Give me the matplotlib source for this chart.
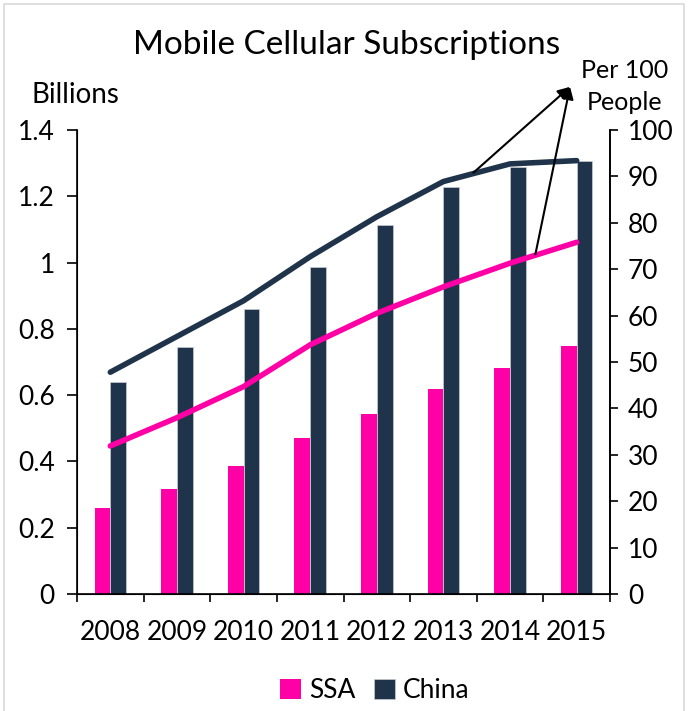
import matplotlib
matplotlib.use("Agg")
import matplotlib.pyplot as plt
from matplotlib.patches import Rectangle
import numpy as np

years = ["2008", "2009", "2010", "2011", "2012", "2013", "2014", "2015"]
ssa_subs = [0.26, 0.316, 0.387, 0.471, 0.544, 0.619, 0.681, 0.747]
china_subs = [0.641, 0.746, 0.859, 0.987, 1.112, 1.229, 1.289, 1.305]
ssa_per100 = [31.9, 38.0, 44.7, 53.7, 60.5, 66.2, 71.3, 75.8]
china_per100 = [47.8, 55.5, 63.2, 72.7, 81.3, 88.9, 92.7, 93.4]
left_ticks = [0, 0.2, 0.4, 0.6, 0.8, 1.0, 1.2, 1.4]
left_labels = ["0", "0.2", "0.4", "0.6", "0.8", "1", "1.2", "1.4"]
right_ticks = [0, 10, 20, 30, 40, 50, 60, 70, 80, 90, 100]

PINK = "#FF00A6"
NAVY = "#1F334A"
plt.rcParams['font.family'] = ['Lato', 'DejaVu Sans']
FS = 19

fig = plt.figure(figsize=(6.9, 7.11), dpi=100)
ax = fig.add_axes([77/690, 1-594/711, (610-77)/690, (594-130)/711])
x = np.arange(len(years))
w = 0.236
ax.bar(x - w/2, ssa_subs, w, color=PINK, label="SSA", zorder=2)
ax.bar(x + w/2, china_subs, w, color=NAVY, label="China", zorder=2,
       edgecolor='#C8CDD3', linewidth=0.5)
ax.set_xlim(-0.5, len(years) - 0.5)
ax.set_ylim(0, 1.4)
ax.set_yticks(left_ticks)
ax.set_yticklabels(left_labels)
ax.set_xticks(np.arange(-0.5, len(years), 1.0))
ax.set_xticklabels([])
ax.set_xticks(x, minor=True)
ax.set_xticklabels(years, minor=True)
ax.tick_params(axis='x', which='minor', length=0, labelsize=FS, pad=19)
ax.tick_params(axis='x', which='major', length=6, width=1.2, direction='out')
ax.tick_params(axis='y', length=7, width=1.2, labelsize=FS, pad=9)
ax.spines['top'].set_visible(False)
for s in ['left', 'right', 'bottom']:
    ax.spines[s].set_linewidth(1.2)

ax2 = ax.twinx()
ax2.set_ylim(0, 100)
ax2.set_yticks(right_ticks)
ax2.tick_params(axis='y', length=6, width=1.2, labelsize=FS, pad=7)
ax2.spines['top'].set_visible(False)
ax2.spines['right'].set_linewidth(1.2)
ax2.plot(x, china_per100, color=NAVY, lw=4, solid_capstyle='round', solid_joinstyle='round', zorder=3)
ax2.plot(x, ssa_per100, color=PINK, lw=4, solid_capstyle='round', solid_joinstyle='round', zorder=3)

head = (6.90, 109.3)
for start in [(5.45, 90.8), (6.38, 73.2)]:
    ax2.annotate("", xy=head, xytext=start, xycoords='data', textcoords='data',
                 arrowprops=dict(arrowstyle='-|>', color='black', lw=1.5,
                                 mutation_scale=18, shrinkA=0, shrinkB=0),
                 annotation_clip=False)

fig.text(625/690, 1-70/711, "Per 100", ha='center', va='center', fontsize=18)
fig.text(625/690, 1-102/711, "People", ha='center', va='center', fontsize=18)
fig.text(75/690, 1-95/711, "Billions", ha='center', va='center', fontsize=20)
fig.text(347/690, 1-45/711, "Mobile Cellular Subscriptions", ha='center', va='center', fontsize=24)

fig.legend(loc='center', bbox_to_anchor=(375/690, 1-691/711), ncol=2, frameon=False,
           fontsize=19, handlelength=0.8, handleheight=0.8, handletextpad=0.3,
           columnspacing=0.7)

fig.patches.append(Rectangle((4/690, -0.05), 680/690, 1.05 - 4/711, transform=fig.transFigure,
                             fill=False, edgecolor='#D9D9D9', lw=1.2))

fig.savefig("out.png", dpi=100)
